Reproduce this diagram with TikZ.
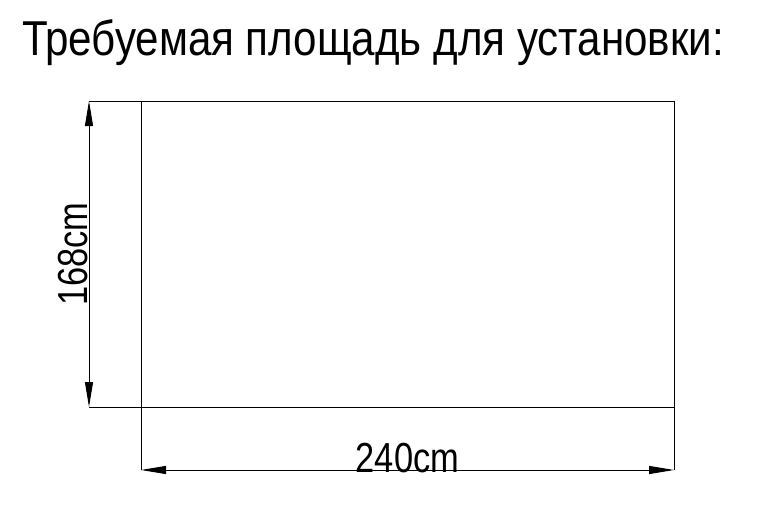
\documentclass[tikz,border=0pt]{standalone}
\usepackage{fontspec}
\setmainfont{Liberation Sans}
\newfontfamily\narrowfont[FakeStretch=0.82]{Liberation Sans}
\newfontfamily\headfont[FakeStretch=0.86]{Liberation Sans}
\usepackage{tikz}
\usetikzlibrary{arrows.meta,calc}

\begin{document}
\begin{tikzpicture}
	[
	 x = 1pt,
	 y = 1pt,
	 line width = 1pt,
	 every node/.style = {inner sep = 0pt,
		                  outer sep = 0pt},
	 outline/.style = {draw = black},
	 extline/.style = {draw = black},
	 dimline/.style = {draw = black,
	                   {Triangle[length=25pt,width=8pt]}-{Triangle[length=25pt,width=8pt]}},
	 heading/.style = {font = \headfont\fontsize{49}{56}\selectfont,
	                   anchor = base west},
	 dimtext/.style = {font = \narrowfont\fontsize{42}{50}\selectfont,
	                   anchor = base}
	]
	
	\newcommand{\AreaTitle}{Требуемая площадь для установки:}
	
	\useasboundingbox (0,0) rectangle (783,-506);
	
	\coordinate (TL) at (141,-101);
	\coordinate (TR) at (674,-101);
	\coordinate (BL) at (141,-407);
	\coordinate (BR) at (674,-407);
	\coordinate (HT) at (89,-101);
	\coordinate (HB) at (89,-407);
	\coordinate (WL) at (141,-470);
	\coordinate (WR) at (674,-470);
	
	\node [heading] (title) at (22,-55) {\AreaTitle};
	
	\draw [outline] (TL) -- (TR) -- (BR) -- (BL) -- cycle;
	\draw [extline] (HT) -- (TL);
	\draw [extline] (HB) -- (BL);
	\draw [extline] (BL) -- (WL);
	\draw [extline] (BR) -- (WR);
	
	\draw [dimline] (HT) -- (HB);
	\draw [dimline] (WL) -- (WR);
	
	\node [dimtext] (W) at ($(WL)!.5!(WR) + (0,-2)$) {240cm};
	\node [dimtext, rotate = 90] (H) at ($(HT)!.5!(HB) + (-2,0)$) {168cm};
\end{tikzpicture}
\end{document}
